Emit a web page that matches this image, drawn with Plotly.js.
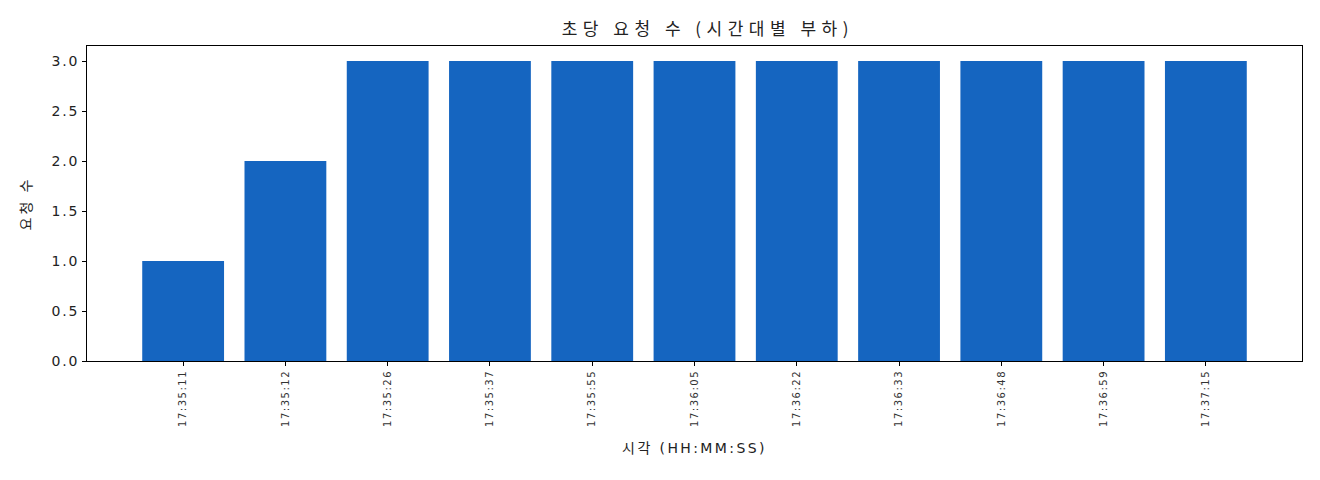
<!DOCTYPE html>
<html>
<head>
<meta charset="utf-8">
<script src="https://cdn.plot.ly/plotly-3.0.1.min.js"></script>
<style>
  body { margin: 0; background: #fff; }
  #chart { width: 1320px; height: 480px; }
  /* 원본 폰트의 넓은 자간 흉내 */
  #chart .xtick text { letter-spacing: 1.5px; }
  #chart .ytick text { letter-spacing: 1.8px; }
  #chart .gtitle { letter-spacing: 5.5px; }
  #chart .xtitle { letter-spacing: 2.4px; }
  #chart .ytitle { letter-spacing: 3px; }
</style>
</head>
<body>
<div id="chart"></div>
<script>
// 시각별 요청 수
var times = ['17:35:11', '17:35:12', '17:35:26', '17:35:37', '17:35:55', '17:36:05',
             '17:36:22', '17:36:33', '17:36:48', '17:36:59', '17:37:15'];
var counts = [1, 2, 3, 3, 3, 3, 3, 3, 3, 3, 3];

var fonte = '"DejaVu Sans", "Noto Sans CJK KR", sans-serif';
var fonteKr = '"Noto Sans CJK KR", "DejaVu Sans", sans-serif';

var data = [{
  type: 'bar',
  x: times.map(function (t, i) { return i; }),
  y: counts,
  width: 0.8,
  marker: { color: '#1565C0' },
  hoverinfo: 'y'
}];

var layout = {
  width: 1320,
  height: 480,
  margin: { l: 87, r: 18, t: 46, b: 119 },
  paper_bgcolor: '#fff',
  plot_bgcolor: '#fff',
  showlegend: false,
  font: { family: fonte, color: '#222', size: 13 },
  title: { text: '초당 요청 수 (시간대별 부하)', font: { size: 17, family: fonteKr, color: '#222' },
           xref: 'paper', x: 0.511, xanchor: 'center',
           yref: 'container', y: 1 - 29 / 480, yanchor: 'middle' },
  xaxis: {
    range: [-0.94, 10.94],
    tickmode: 'array',
    tickvals: times.map(function (t, i) { return i; }),
    ticktext: times,
    tickangle: -90,
    tickfont: { size: 10, family: fonte, color: '#333' },
    ticks: 'outside', ticklen: 4, tickcolor: '#000',
    showgrid: false, zeroline: false,
    showline: true, linecolor: '#000', linewidth: 1, mirror: true,
    title: { text: '시각 (HH:MM:SS)', font: { size: 14, family: fonte, color: '#222' }, standoff: 29 }
  },
  yaxis: {
    range: [0, 3.15],
    tickmode: 'array',
    tickvals: [0, 0.5, 1, 1.5, 2, 2.5, 3],
    ticktext: ['0.0', '0.5', '1.0', '1.5', '2.0', '2.5', '3.0'],
    tickfont: { size: 14, family: fonte, color: '#222' },
    ticks: 'outside', ticklen: 4, tickcolor: '#000',
    showgrid: false, zeroline: false,
    showline: true, linecolor: '#000', linewidth: 1, mirror: true,
    title: { text: '요청 수', font: { size: 14, family: fonteKr, color: '#222' }, standoff: 22 }
  }
};

Plotly.newPlot('chart', data, layout, { displayModeBar: false, staticPlot: true });
</script>
</body>
</html>
